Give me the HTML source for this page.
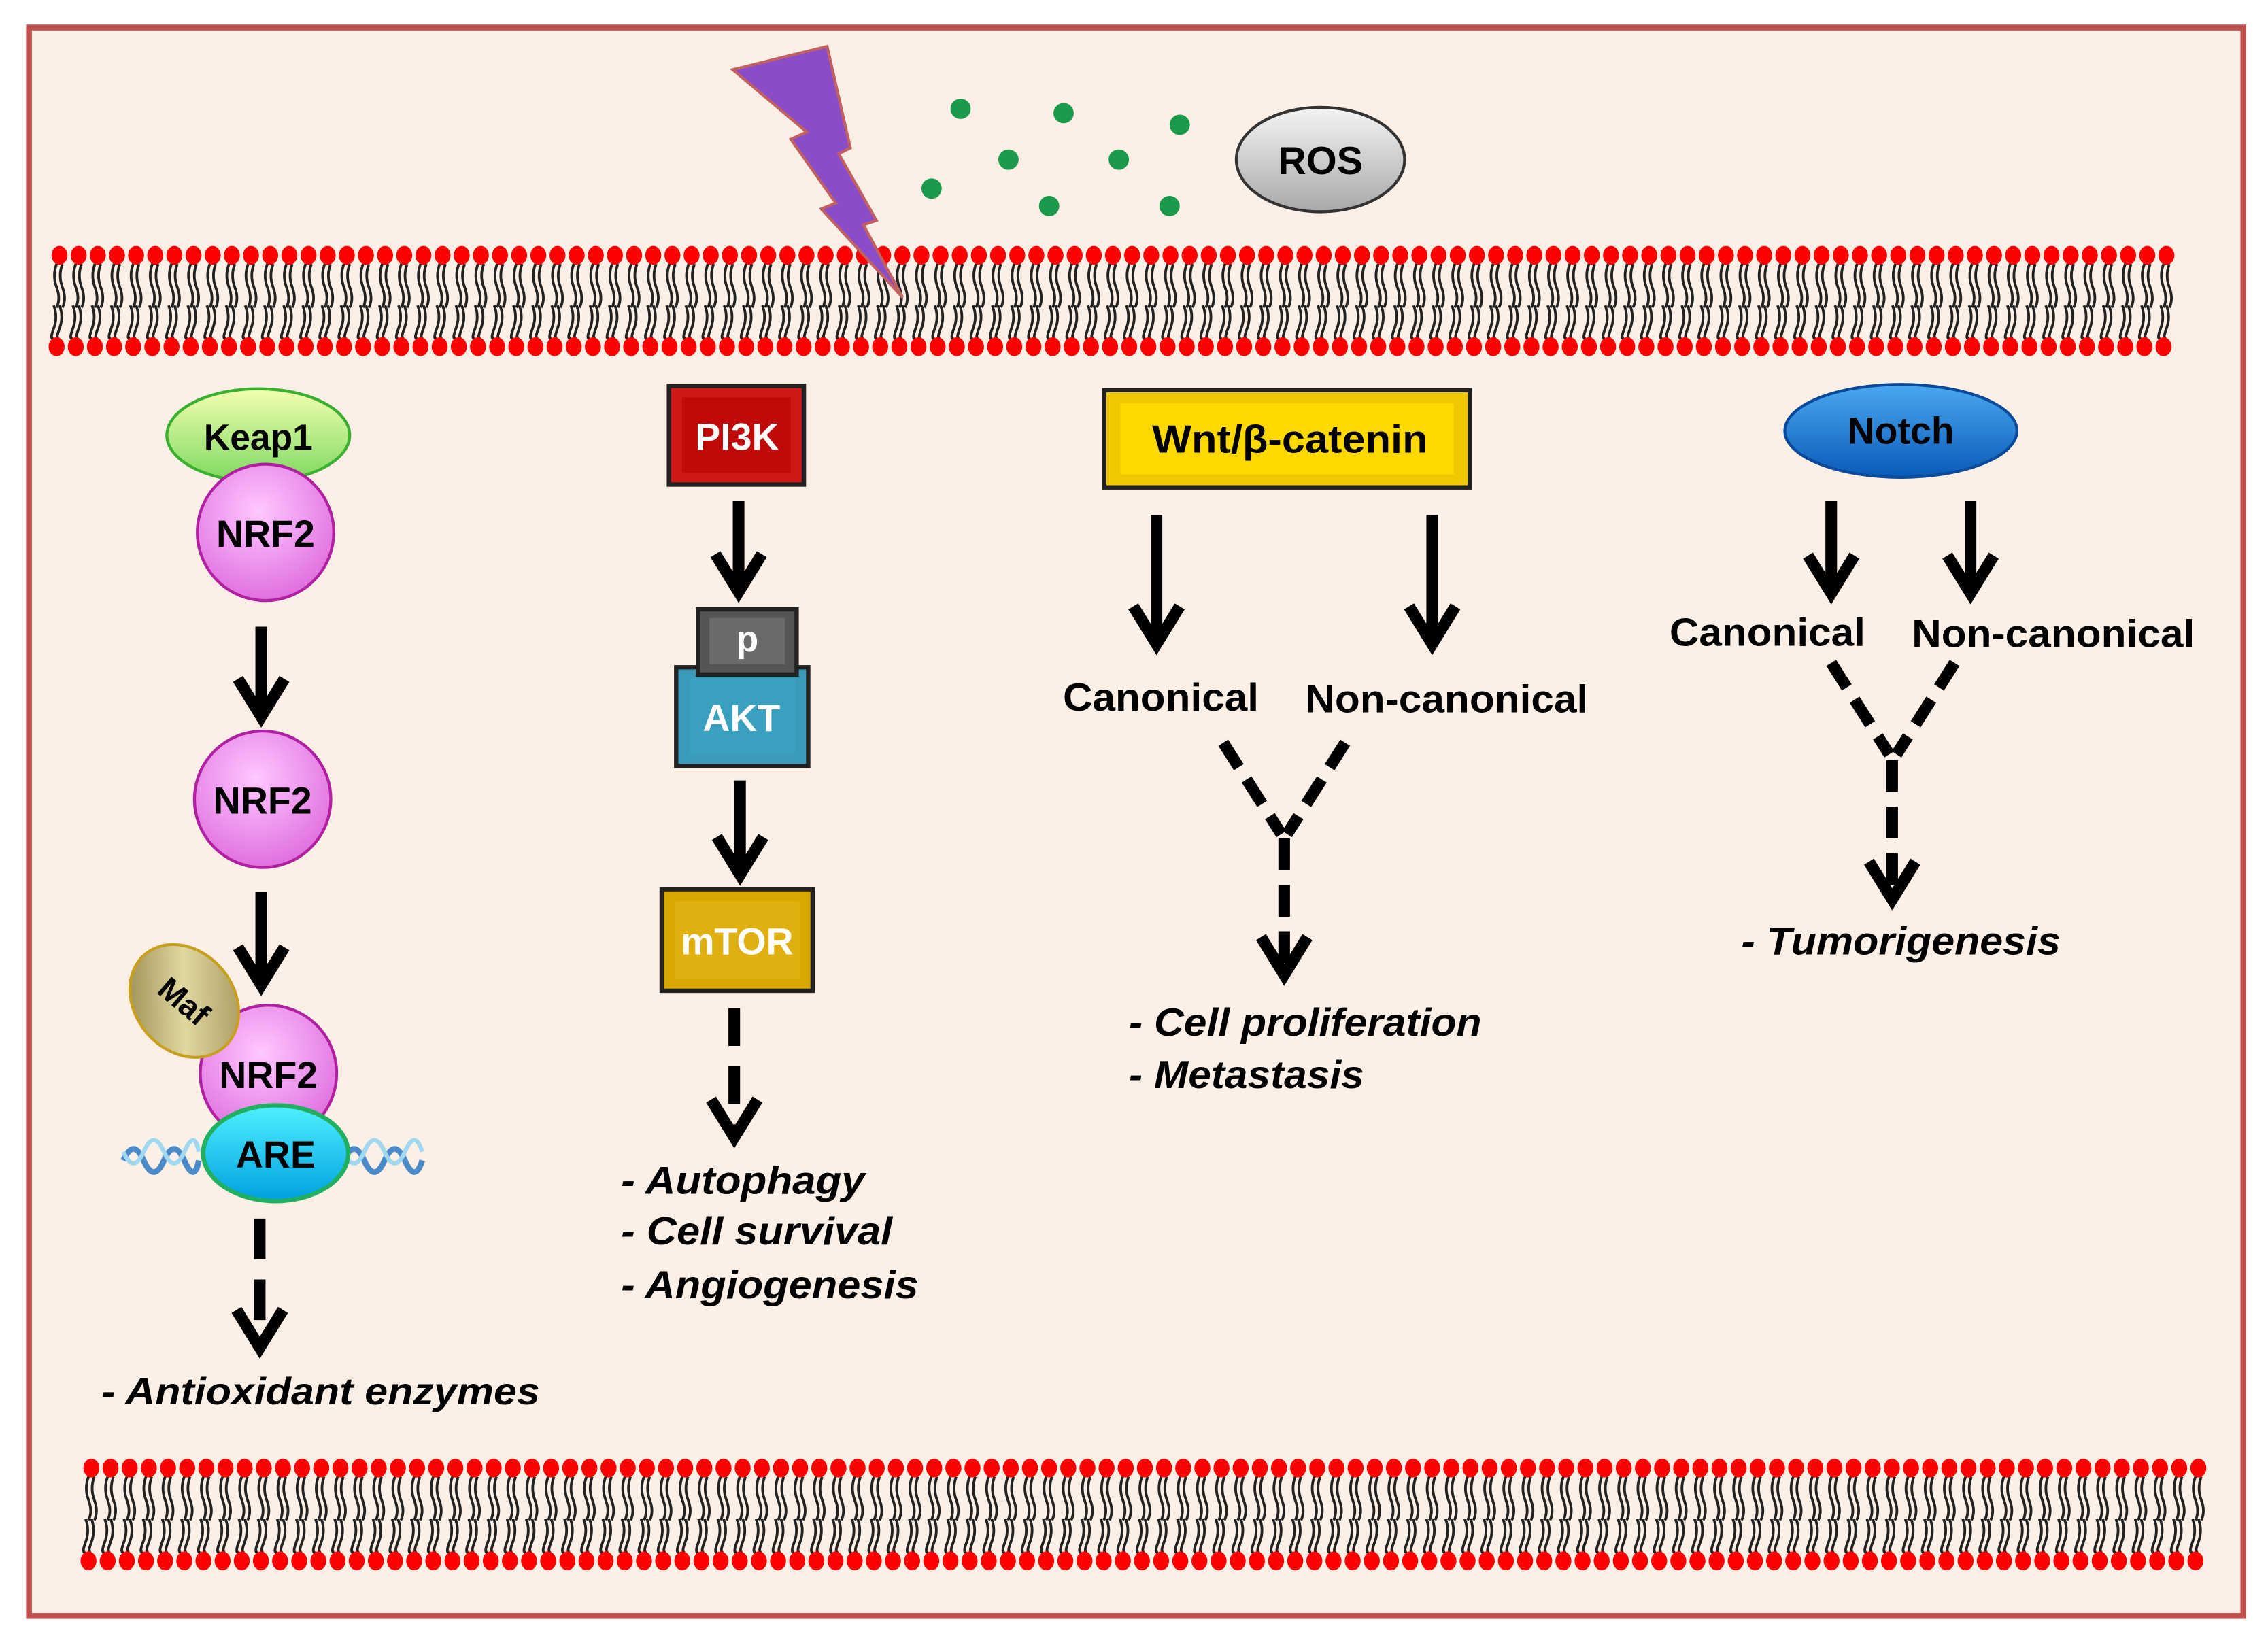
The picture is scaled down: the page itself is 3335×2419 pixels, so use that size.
<!DOCTYPE html>
<html><head><meta charset="utf-8"><style>
html,body{margin:0;padding:0;background:#fff}
svg{display:block}
text{font-family:"Liberation Sans",Arial,sans-serif;font-weight:bold}
</style></head><body>
<svg id="s" width="3335" height="2419" viewBox="0 0 1563 1134" preserveAspectRatio="none" xmlns="http://www.w3.org/2000/svg">
<defs>
<radialGradient id="pink" cx="45%" cy="35%" r="65%"><stop offset="0" stop-color="#ffc8ff"/><stop offset="1" stop-color="#e070e0"/></radialGradient>
<linearGradient id="green" x1="0" y1="0" x2="0" y2="1"><stop offset="0" stop-color="#f4ffb0"/><stop offset="1" stop-color="#7ed860"/></linearGradient>
<linearGradient id="cyan" x1="0" y1="0" x2="0" y2="1"><stop offset="0" stop-color="#50f0ff"/><stop offset="1" stop-color="#00a0e0"/></linearGradient>
<linearGradient id="blue" x1="0" y1="0" x2="0" y2="1"><stop offset="0" stop-color="#4aa8f0"/><stop offset="1" stop-color="#0a5ab8"/></linearGradient>
<linearGradient id="gray" x1="0" y1="0" x2="0" y2="1"><stop offset="0" stop-color="#f4f4f4"/><stop offset="1" stop-color="#a8a8a8"/></linearGradient>
<linearGradient id="maf" x1="0" y1="0" x2="1" y2="1"><stop offset="0" stop-color="#8a7a40"/><stop offset=".5" stop-color="#e0d8a0"/><stop offset="1" stop-color="#9a8a50"/></linearGradient>
</defs>
<rect x="0" y="0" width="1563" height="1134" fill="#fff"/>
<rect x="20" y="19" width="1526" height="1095" fill="#fcefe6" stroke="#c0504d" stroke-width="4"/>
<g id="mem"></g>

<!-- lightning -->
<polygon points="505,48 570,32 586,102 578,106 604,152 595,155 622,205 566,144 576,140 545,96 556,91" fill="#8a4cc8" stroke="#c06060" stroke-width="2"/>
<g fill="#1a9a4a">
<circle cx="662" cy="75" r="7"/><circle cx="733" cy="78" r="7"/><circle cx="813" cy="86" r="7"/>
<circle cx="695" cy="110" r="7"/><circle cx="771" cy="110" r="7"/><circle cx="642" cy="130" r="7"/>
<circle cx="723" cy="142" r="7"/><circle cx="806" cy="142" r="7"/></g>
<ellipse cx="910" cy="110" rx="58" ry="36" fill="url(#gray)" stroke="#333" stroke-width="2"/>
<text x="910" y="120" font-size="27" text-anchor="middle">ROS</text>

<!-- NRF2 column -->
<ellipse cx="178" cy="300" rx="63" ry="32" fill="url(#green)" stroke="#3ab030" stroke-width="2"/>
<text x="178" y="310" font-size="25" text-anchor="middle">Keap1</text>
<circle cx="183" cy="367" r="47" fill="url(#pink)" stroke="#b020a0" stroke-width="2"/>
<text x="183" y="377" font-size="26" text-anchor="middle">NRF2</text>
<circle cx="181" cy="551" r="47" fill="url(#pink)" stroke="#b020a0" stroke-width="2"/>
<text x="181" y="561" font-size="26" text-anchor="middle">NRF2</text>
<circle cx="185" cy="740" r="47" fill="url(#pink)" stroke="#b020a0" stroke-width="2"/>
<ellipse cx="127" cy="690" rx="34" ry="42" transform="rotate(-40 127 690)" fill="url(#maf)" stroke="#c8a020" stroke-width="2"/>
<text x="127" y="698" font-size="22" text-anchor="middle" transform="rotate(40 127 690)">Maf</text>
<text x="185" y="750" font-size="26" text-anchor="middle">NRF2</text>
<g stroke="#4a8ac8" stroke-width="4" fill="none">
<path d="M85,800 q7,-16 14,0 t14,0 t14,0 t10,0"/><path d="M237,800 q7,-16 14,0 t14,0 t14,0 t12,0"/></g>
<g stroke="#a0d8f0" stroke-width="3" fill="none">
<path d="M85,794 q7,16 14,0 t14,0 t14,0 t10,0"/><path d="M237,794 q7,16 14,0 t14,0 t14,0 t12,0"/></g>
<ellipse cx="190" cy="795" rx="50" ry="33" fill="url(#cyan)" stroke="#20b060" stroke-width="3"/>
<text x="190" y="805" font-size="26" text-anchor="middle">ARE</text>
<text x="70" y="968" font-size="26" font-style="italic" textLength="302" lengthAdjust="spacingAndGlyphs">- Antioxidant enzymes</text>

<!-- PI3K column -->
<rect x="461" y="266" width="93" height="68" fill="#d01818" stroke="#222" stroke-width="3"/>
<rect x="470" y="274" width="75" height="52" fill="#c00a0a"/>
<text x="508" y="310" font-size="26" text-anchor="middle" fill="#fff">PI3K</text>
<rect x="466" y="460" width="91" height="68" fill="#3a9ab8" stroke="#222" stroke-width="3"/>
<rect x="475" y="468" width="73" height="52" fill="#3aa0c0"/>
<text x="511" y="504" font-size="26" text-anchor="middle" fill="#fff">AKT</text>
<rect x="481" y="420" width="68" height="45" fill="#555" stroke="#222" stroke-width="3"/>
<rect x="489" y="426" width="52" height="32" fill="#6a6a6a"/>
<text x="515" y="449" font-size="25" text-anchor="middle" fill="#fff">p</text>
<rect x="456" y="613" width="104" height="70" fill="#d8a800" stroke="#222" stroke-width="3"/>
<rect x="465" y="621" width="86" height="54" fill="#e0b010"/>
<text x="508" y="658" font-size="26" text-anchor="middle" fill="#fff">mTOR</text>
<g font-size="27" font-style="italic">
<text x="428" y="823" textLength="168" lengthAdjust="spacingAndGlyphs">- Autophagy</text>
<text x="428" y="858" textLength="187" lengthAdjust="spacingAndGlyphs">- Cell survival</text>
<text x="428" y="895" textLength="205" lengthAdjust="spacingAndGlyphs">- Angiogenesis</text></g>

<!-- Wnt column -->
<rect x="761" y="269" width="252" height="67" fill="#f0c800" stroke="#222" stroke-width="3"/>
<rect x="772" y="278" width="230" height="49" fill="#ffd800"/>
<text x="889" y="312" font-size="27" text-anchor="middle" textLength="190" lengthAdjust="spacingAndGlyphs">Wnt/β-catenin</text>
<text x="800" y="490" font-size="27" text-anchor="middle" textLength="135" lengthAdjust="spacingAndGlyphs">Canonical</text>
<text x="997" y="491" font-size="27" text-anchor="middle" textLength="195" lengthAdjust="spacingAndGlyphs">Non-canonical</text>
<g font-size="27" font-style="italic">
<text x="778" y="714" textLength="243" lengthAdjust="spacingAndGlyphs">- Cell proliferation</text>
<text x="778" y="750" textLength="162" lengthAdjust="spacingAndGlyphs">- Metastasis</text></g>

<!-- Notch column -->
<ellipse cx="1310" cy="297" rx="80" ry="32" fill="url(#blue)" stroke="#0a4a9a" stroke-width="2"/>
<text x="1310" y="306" font-size="26" text-anchor="middle">Notch</text>
<text x="1218" y="445" font-size="27" text-anchor="middle" textLength="135" lengthAdjust="spacingAndGlyphs">Canonical</text>
<text x="1415" y="446" font-size="27" text-anchor="middle" textLength="195" lengthAdjust="spacingAndGlyphs">Non-canonical</text>
<text x="1200" y="658" font-size="27" font-style="italic" textLength="220" lengthAdjust="spacingAndGlyphs">- Tumorigenesis</text>

<!-- arrows -->
<g stroke="#000" stroke-width="8" fill="none" stroke-linecap="butt" stroke-linejoin="miter">
<line x1="180" y1="432" x2="180" y2="492"/><polyline points="164,468 180,494 196,468"/>
<line x1="180" y1="615" x2="180" y2="677"/><polyline points="164,653 180,679 196,653"/>
<line x1="179" y1="840" x2="179" y2="925" stroke-dasharray="28,14"/><polyline points="163,903 179,929 195,903"/>
<line x1="509" y1="345" x2="509" y2="405"/><polyline points="493,382 509,408 525,382"/>
<line x1="510" y1="538" x2="510" y2="600"/><polyline points="494,577 510,603 526,577"/>
<line x1="506" y1="695" x2="506" y2="780" stroke-dasharray="26,14"/><polyline points="490,758 506,784 522,758"/>
<line x1="797" y1="355" x2="797" y2="442"/><polyline points="781,418 797,444 813,418"/>
<line x1="987" y1="355" x2="987" y2="442"/><polyline points="971,418 987,444 1003,418"/>
<line x1="843" y1="512" x2="883" y2="575" stroke-dasharray="20,10"/>
<line x1="927" y1="512" x2="887" y2="575" stroke-dasharray="20,10"/>
<line x1="885" y1="578" x2="885" y2="668" stroke-dasharray="22,10"/><polyline points="869,646 885,672 901,646"/>
<line x1="1262" y1="345" x2="1262" y2="405"/><polyline points="1246,383 1262,409 1278,383"/>
<line x1="1358" y1="345" x2="1358" y2="405"/><polyline points="1342,383 1358,409 1374,383"/>
<line x1="1262" y1="457" x2="1302" y2="520" stroke-dasharray="20,10"/>
<line x1="1347" y1="457" x2="1307" y2="520" stroke-dasharray="20,10"/>
<line x1="1304" y1="524" x2="1304" y2="616" stroke-dasharray="22,10"/><polyline points="1288,594 1304,620 1320,594"/>
</g>
</svg>
<script>
(function(){
var g=document.getElementById('mem'),h='';
function layer(x0,x1,yt,yb){
  for(var x=x0;x<=x1;x+=13.2){
    var tA=yt+6, tB=yb-6, mid=(yt+yb)/2;
    h+='<path d="M'+(x-1)+','+tA+' q-3,8 0,16 t0,14" stroke="#222" stroke-width="1.8" fill="none"/>';
    h+='<path d="M'+(x+3)+','+tA+' q-3,8 0,16 t0,14" stroke="#222" stroke-width="1.8" fill="none"/>';
    h+='<path d="M'+(x-3)+','+(mid+3)+' q3,8 0,16 t0,'+(tB-mid-19)+'" stroke="#222" stroke-width="1.8" fill="none"/>';
    h+='<path d="M'+(x+1)+','+(mid+3)+' q3,8 0,16 t0,'+(tB-mid-19)+'" stroke="#222" stroke-width="1.8" fill="none"/>';
    h+='<ellipse cx="'+(x+1)+'" cy="'+yt+'" rx="5.5" ry="6.5" fill="#f00"/>';
    h+='<ellipse cx="'+(x-1)+'" cy="'+yb+'" rx="5.5" ry="6.5" fill="#f00"/>';
  }
}
layer(40,1500,176,239);
layer(62,1520,1012,1076);
g.innerHTML=h;
})();
</script>
</body></html>
